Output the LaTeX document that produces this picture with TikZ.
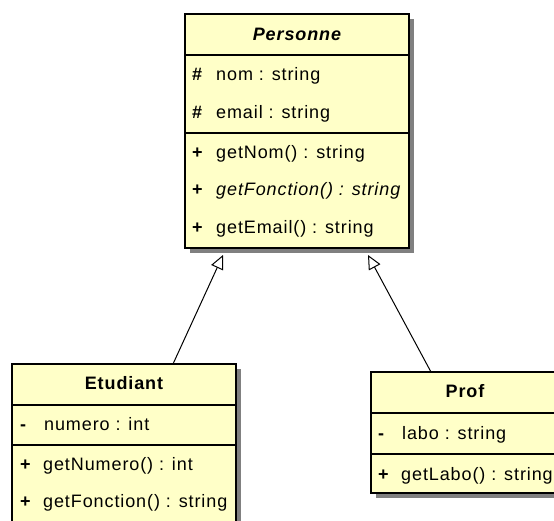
\documentclass[tikz,border=0pt]{standalone}
\usepackage{fontspec}
\newfontfamily\umlfont[LetterSpace=5]{Liberation Sans}
\usetikzlibrary{arrows.meta}
\definecolor{umlfill}{RGB}{255,255,200}
\definecolor{shadowgray}{RGB}{128,128,128}
\begin{document}
\begin{tikzpicture}[x=1pt,y=-1pt,
  cls/.style={draw=black, line width=1.3pt, fill=umlfill, inner sep=0pt, outer sep=0pt, anchor=north west},
  shd/.style={fill=shadowgray, draw=none},
  sep/.style={line width=1.3pt},
  txt/.style={inner sep=0pt, anchor=mid west, font=\umlfont\fontsize{18}{21}\selectfont},
  vis/.style={txt, font=\umlfont\fontsize{18}{21}\selectfont\bfseries},
  ttl/.style={inner sep=0pt, anchor=mid, font=\umlfont\fontsize{18}{21}\selectfont\bfseries},
  gen/.style={-{Triangle[open, length=14pt, width=13pt]}, line width=1pt}]
\useasboundingbox (0,0) rectangle (554,520);

% Personne
\fill[shd] (190,19) rectangle (414,253);
\node[cls, minimum width=224pt, minimum height=234pt] (personne) at (185,14) {};
\draw[sep] (185,55) -- (409,55);
\draw[sep] (185,133) -- (409,133);
\node[ttl] (pt) at (297,38) {\itshape Personne};
\node[vis] (pv1) at (192,78) {\#};
\node[txt] (pa1) at (216,78) {nom : string};
\node[vis] (pv2) at (192,116) {\#};
\node[txt] (pa2) at (216,116) {email : string};
\node[vis] (pv3) at (192,156) {+};
\node[txt] (pm1) at (216,156) {getNom() : string};
\node[vis] (pv4) at (192,193) {+};
\node[txt] (pm2) at (216,193) {\itshape getFonction() : string};
\node[vis] (pv5) at (192,231) {+};
\node[txt] (pm3) at (216,231) {getEmail() : string};

% Etudiant
\fill[shd] (17,369) rectangle (241,540);
\node[cls, minimum width=224pt, minimum height=170pt] (etudiant) at (12,364) {};
\draw[sep] (12,405) -- (236,405);
\draw[sep] (12,445) -- (236,445);
\node[ttl] (et) at (124,387) {Etudiant};
\node[vis] (ev1) at (20,428) {-};
\node[txt] (ea1) at (44,428) {numero : int};
\node[vis] (ev2) at (20,468) {+};
\node[txt] (em1) at (43,468) {getNumero() : int};
\node[vis] (ev3) at (20,505) {+};
\node[txt] (em2) at (43,505) {getFonction() : string};

% Prof
\fill[shd] (376,377) rectangle (580,498);
\node[cls, minimum width=204pt, minimum height=121pt] (prof) at (371,372) {};
\draw[sep] (371,413) -- (575,413);
\draw[sep] (371,454) -- (575,454);
\node[ttl] (prt) at (465,395) {Prof};
\node[vis] (rv1) at (378,437) {-};
\node[txt] (ra1) at (402,437) {labo : string};
\node[vis] (rv2) at (378,478) {+};
\node[txt] (rm1) at (401,478) {getLabo() : string};

% generalisation connectors
\coordinate (etop) at (173,364);
\coordinate (ptipl) at (223,255);
\coordinate (rtop) at (431,372);
\coordinate (ptipr) at (368,255);
\draw[gen] (etop) -- (ptipl);
\draw[gen] (rtop) -- (ptipr);
\end{tikzpicture}
\end{document}
